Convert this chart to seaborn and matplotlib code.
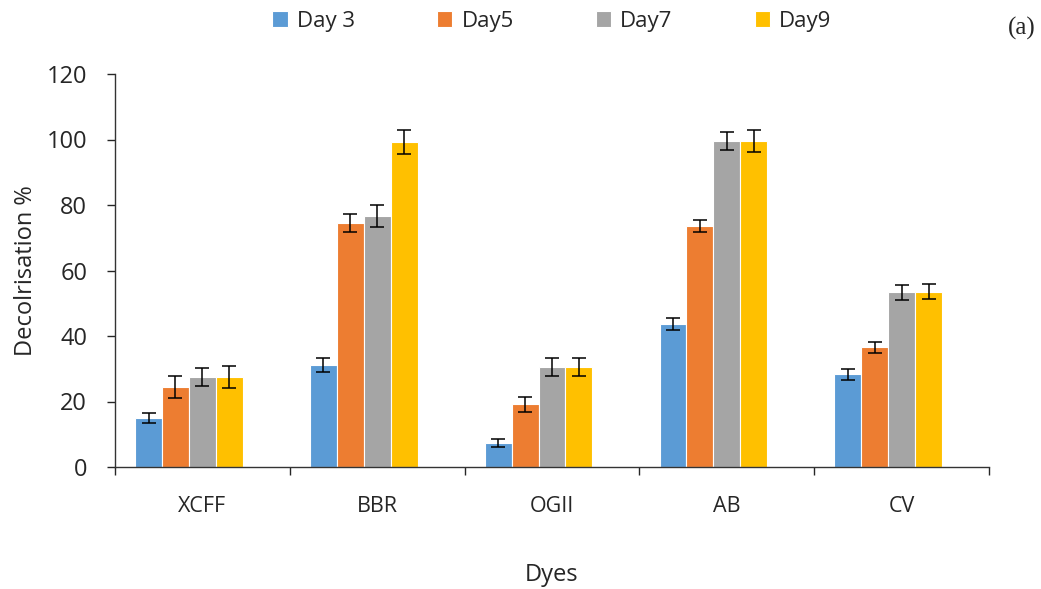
import matplotlib
matplotlib.use("Agg")
import matplotlib.pyplot as plt
import seaborn as sns
import pandas as pd
import numpy as np

dyes = ["XCFF", "BBR", "OGII", "AB", "CV"]
days = ["Day 3", "Day5", "Day7", "Day9"]
day3 = [15.0, 31.1, 7.3, 43.7, 28.3]
day5 = [24.4, 74.4, 19.2, 73.6, 36.5]
day7 = [27.5, 76.7, 30.5, 99.5, 53.4]
day9 = [27.4, 99.2, 30.5, 99.5, 53.5]
err3 = [1.6, 2.1, 1.3, 1.8, 1.7]
err5 = [3.3, 2.7, 2.3, 1.8, 1.7]
err7 = [2.7, 3.3, 2.8, 2.8, 2.3]
err9 = [3.3, 3.7, 2.8, 3.4, 2.3]
colors = ["#5B9BD5", "#ED7D31", "#A5A5A5", "#FFC000"]
# the source chart reserves an empty fifth series slot in each group
empty_slot = " "

series = [day3, day5, day7, day9]
errs = [err3, err5, err7, err9]
rows = []
for d, vals, es in zip(days, series, errs):
    for dye, v, e in zip(dyes, vals, es):
        rows.append({"Dye": dye, "Day": d, "Value": v, "Err": e})
df = pd.DataFrame(rows)

sns.set_style("white")
plt.rcParams["font.family"] = ["Open Sans", "DejaVu Sans"]

fig = plt.figure(figsize=(10.41, 5.89), dpi=100)
ax = fig.add_axes([115 / 1041, 1 - 467 / 589, (989 - 115) / 1041, (467 - 74) / 589])

sns.barplot(data=df, x="Dye", y="Value", hue="Day", order=dyes,
            hue_order=days + [empty_slot],
            palette=colors + ["white"], width=0.77, errorbar=None, ax=ax,
            edgecolor="white", linewidth=0.8, saturation=1)

# error bars from bar positions
for cont, d in zip(ax.containers, days):
    sub = df[df["Day"] == d].set_index("Dye").loc[dyes]
    xs = [p.get_x() + p.get_width() / 2 for p in cont.patches]
    hs = [p.get_height() for p in cont.patches]
    ax.errorbar(xs, hs, yerr=sub["Err"].values, fmt="none", ecolor="black",
                elinewidth=1.1, capsize=5, capthick=1.1, zorder=5)

ax.set_ylim(0, 120)
ax.set_xlim(-0.5, 4.5)
ax.set_yticks(np.arange(0, 121, 20))
ax.tick_params(axis="y", labelsize=17, length=6, width=1, direction="out", left=True, pad=14)
ax.set_xticks(range(5))
ax.set_xticklabels(dyes)
ax.set_xticks(np.arange(-0.5, 4.6, 1), minor=True)
ax.tick_params(axis="x", which="major", length=0, labelsize=15.5, pad=21)
ax.tick_params(axis="x", which="minor", length=6, width=1, direction="out", bottom=True)

for s in ["top", "right"]:
    ax.spines[s].set_visible(False)
for s in ["left", "bottom"]:
    ax.spines[s].set_color("#333333")
    ax.spines[s].set_linewidth(1)

ax.set_ylabel("Decolrisation %", fontsize=17, labelpad=6)
ax.set_xlabel("Dyes", fontsize=17, labelpad=33)

handles, labels = ax.get_legend_handles_labels()
pairs = [(h, l) for h, l in zip(handles, labels) if l in days]
ax.legend([p[0] for p in pairs], [p[1] for p in pairs], loc="center",
          bbox_to_anchor=(0.5, 1 + (74 - 21) / 393),
          ncol=4, frameon=False, fontsize=16, handlelength=0.7, handleheight=0.7,
          columnspacing=3.7, handletextpad=0.4)

fig.text(1022 / 1041, 1 - 28 / 589, "(a)", fontsize=18, family="Liberation Serif",
         ha="center", va="center")

fig.savefig("out.png", dpi=100)
